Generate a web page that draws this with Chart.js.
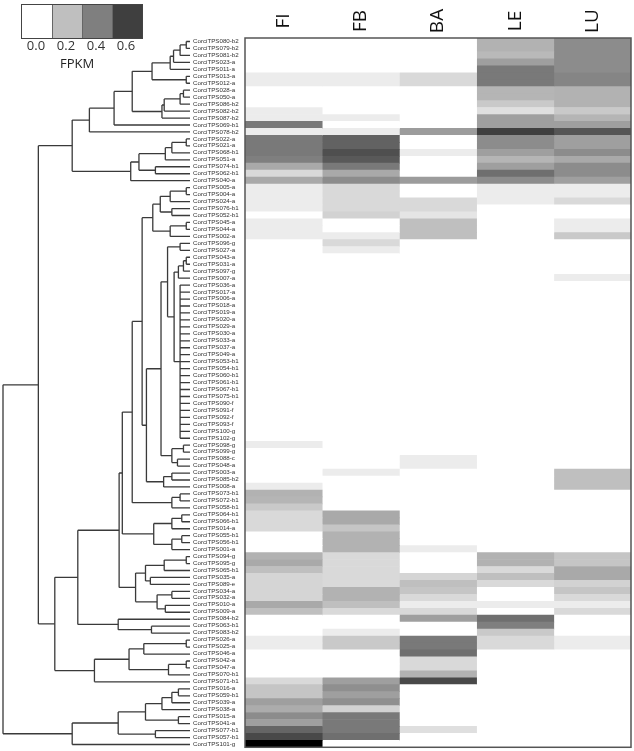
<!DOCTYPE html>
<html>
<head>
<meta charset="utf-8">
<script src="https://cdn.jsdelivr.net/npm/chart.js@4"></script>
<style>
  body { margin: 0; background: #fff; font-family: "Open Sans", sans-serif; }
  #page { position: relative; width: 634px; height: 751px; overflow: hidden; }
  #heatBox { position: absolute; left: 0; top: 0; width: 634px; height: 751px; }
  #treeBox { position: absolute; left: 0; top: 0; width: 195px; height: 751px; }
  #key { position: absolute; left: 21px; top: 4px; display: flex; border: 1px solid #444; }
  #key div { width: 30px; height: 33px; box-sizing: border-box; border-left: 1px solid #666; }
  #key div:first-child { border-left: none; }
  #keyTicks { position: absolute; left: 21px; top: 36px; display: flex; font-size: 13px; color: #333; }
  #keyTicks span { width: 30px; text-align: center; }
  #keyTitle { position: absolute; left: 60px; top: 54px; font-size: 13px; color: #222; }
</style>
</head>
<body>
<div id="page">
  <div id="heatBox"><canvas id="heat"></canvas></div>
  <div id="treeBox"><canvas id="tree"></canvas></div>
  <div id="key"></div>
  <div id="keyTicks"></div>
  <div id="keyTitle">FPKM</div>
</div>
<script>
const genes = [
  'CorciTPS080-b2','CorciTPS079-b2','CorciTPS081-b2','CorciTPS023-a','CorciTPS011-a',
  'CorciTPS013-a','CorciTPS012-a','CorciTPS028-a','CorciTPS050-a','CorciTPS086-b2',
  'CorciTPS082-b2','CorciTPS087-b2','CorciTPS069-b1','CorciTPS078-b2','CorciTPS022-a',
  'CorciTPS021-a','CorciTPS068-b1','CorciTPS051-a','CorciTPS074-b1','CorciTPS062-b1',
  'CorciTPS040-a','CorciTPS005-a','CorciTPS004-a','CorciTPS024-a','CorciTPS076-b1',
  'CorciTPS052-b1','CorciTPS045-a','CorciTPS044-a','CorciTPS002-a','CorciTPS096-g',
  'CorciTPS027-a','CorciTPS043-a','CorciTPS031-a','CorciTPS097-g','CorciTPS007-a',
  'CorciTPS036-a','CorciTPS017-a','CorciTPS006-a','CorciTPS018-a','CorciTPS019-a',
  'CorciTPS020-a','CorciTPS029-a','CorciTPS030-a','CorciTPS033-a','CorciTPS037-a',
  'CorciTPS049-a','CorciTPS053-b1','CorciTPS054-b1','CorciTPS060-b1','CorciTPS061-b1',
  'CorciTPS067-b1','CorciTPS075-b1','CorciTPS090-f','CorciTPS091-f','CorciTPS092-f',
  'CorciTPS093-f','CorciTPS100-g','CorciTPS102-g','CorciTPS098-g','CorciTPS099-g',
  'CorciTPS088-c','CorciTPS048-a','CorciTPS003-a','CorciTPS085-b2','CorciTPS008-a',
  'CorciTPS073-b1','CorciTPS072-b1','CorciTPS058-b1','CorciTPS064-b1','CorciTPS066-b1',
  'CorciTPS014-a','CorciTPS055-b1','CorciTPS056-b1','CorciTPS001-a','CorciTPS094-g',
  'CorciTPS095-g','CorciTPS065-b1','CorciTPS035-a','CorciTPS089-e','CorciTPS034-a',
  'CorciTPS032-a','CorciTPS010-a','CorciTPS009-a','CorciTPS084-b2','CorciTPS063-b1',
  'CorciTPS083-b2','CorciTPS026-a','CorciTPS025-a','CorciTPS046-a','CorciTPS042-a',
  'CorciTPS047-a','CorciTPS070-b1','CorciTPS071-b1','CorciTPS016-a','CorciTPS059-b1',
  'CorciTPS039-a','CorciTPS038-a','CorciTPS015-a','CorciTPS041-a','CorciTPS077-b1',
  'CorciTPS057-b1','CorciTPS101-g'
];

const tissues = ['FI', 'FB', 'BA', 'LE', 'LU'];

// FPKM, one value per gene (same order as genes)
const FI = [
  0,0,0,0,0,0.06,0.06,0,0,0,
  0.06,0.06,0.42,0.06,0.42,0.42,0.42,0.40,0.27,0.12,
  0.27,0.06,0.06,0.06,0.06,0,0.06,0.06,0.06,0,
  0,0,0,0,0,0,0,0,0,0,
  0,0,0,0,0,0,0,0,0,0,
  0,0,0,0,0,0,0,0,0.06,0,
  0,0,0,0,0.06,0.24,0.23,0.17,0.12,0.12,
  0.12,0,0,0,0.24,0.27,0.20,0.13,0.13,0.13,
  0.13,0.27,0.20,0,0,0,0.06,0.06,0,0,
  0,0,0.12,0.18,0.18,0.30,0.26,0.36,0.30,0.48,
  0.57,0.80
];
const FB = [
  0,0,0,0,0,0.06,0.06,0,0,0,
  0,0.06,0,0.06,0.49,0.49,0.55,0.52,0.42,0.27,
  0.36,0.12,0.12,0.12,0.12,0.14,0,0,0.06,0.12,
  0.06,0,0,0,0,0,0,0,0,0,
  0,0,0,0,0,0,0,0,0,0,
  0,0,0,0,0,0,0,0,0,0,
  0,0,0.06,0,0,0,0,0,0.27,0.27,
  0.18,0.24,0.24,0.24,0.12,0.12,0.12,0.12,0.12,0.24,
  0.24,0.20,0.12,0,0,0.06,0.17,0.17,0,0,
  0,0,0.30,0.35,0.30,0.35,0.14,0.42,0.42,0.42,
  0.45,0
];
const BA = [
  0,0,0,0,0,0.12,0.12,0,0,0,
  0,0,0,0.31,0,0,0.06,0,0,0,
  0.31,0,0,0.12,0.12,0.08,0.20,0.20,0.20,0,
  0,0,0,0,0,0,0,0,0,0,
  0,0,0,0,0,0,0,0,0,0,
  0,0,0,0,0,0,0,0,0,0,
  0.06,0.06,0,0,0,0,0,0,0,0,
  0,0,0,0.06,0,0,0,0.13,0.20,0.18,
  0.12,0.06,0.12,0.30,0,0,0.42,0.42,0.45,0.12,
  0.12,0.24,0.57,0,0,0,0,0,0,0.10,
  0,0
];
const LE = [
  0.24,0.24,0.22,0.30,0.42,0.42,0.42,0.23,0.23,0.17,
  0.10,0.30,0.30,0.60,0.36,0.36,0.30,0.23,0.30,0.45,
  0.36,0.06,0.06,0.06,0,0,0,0,0,0,
  0,0,0,0,0,0,0,0,0,0,
  0,0,0,0,0,0,0,0,0,0,
  0,0,0,0,0,0,0,0,0,0,
  0,0,0,0,0,0,0,0,0,0,
  0,0,0,0,0.24,0.24,0.12,0.20,0.12,0,
  0,0.06,0,0.45,0.40,0.17,0.12,0.12,0,0,
  0,0,0,0,0,0,0,0,0,0,
  0,0
];
const LU = [
  0.36,0.36,0.36,0.36,0.36,0.38,0.38,0.24,0.24,0.24,
  0.17,0.23,0.30,0.53,0.30,0.30,0.36,0.27,0.36,0.36,
  0.30,0.06,0.06,0.12,0,0,0.06,0.06,0.17,0,
  0,0,0,0,0.06,0,0,0,0,0,
  0,0,0,0,0,0,0,0,0,0,
  0,0,0,0,0,0,0,0,0,0,
  0,0,0.20,0.20,0.20,0,0,0,0,0,
  0,0,0,0,0.18,0.18,0.27,0.27,0.14,0.18,
  0.12,0.06,0.12,0,0,0,0.06,0.06,0,0,
  0,0,0,0,0,0,0,0,0,0,
  0,0
];
const fpkm = [FI, FB, BA, LE, LU];

const keyValues = [0.0, 0.2, 0.4, 0.6];

// hierarchical clustering: [height, child, child, ...]; numbers are gene indices
const topCluster = [63,
  [53.8, [40.6, [30.9,
      [20.3, [10.6, [8.8, [5.3, [2, 0, 1], 2], 3], 4], [2, 5, 6]],
      [15, [13.8, [5.3, [3.5, 7, 8], 9], 10], 11]], 12], 13],
  [31.7, [27.3, [13.2, [9.7, [2, 14, 15], 16], 17], [18.5, 18, 19]], 20]];
const zeroCluster = [5.3, 35,36,37,38,39,40,41,42,43,44,45,46,47,48,49,50,51,52,53,54,55,56,57];
const midCluster = [72.3,
  [60,
    [37.9,
      [36.2,
        [30.9,
          [25.6,
            [19.9, [15.9, [10.6, [2, 21, 22], 23], [9.7, 24, 25]], [10.6, [2, 26, 27], 28]],
            [23.3,
              [15.5, [12, [5.3, 29, 30], [8.5, [6.2, [3.5, [2, 31, 32], 33], 34], zeroCluster]],
                     [9.7, [3.5, 58, 59], [6.7, 60, 61]]],
              [14.1, [9.7, 62, 63], 64]]],
          [9.7, [5.3, 65, 66], 67]],
        [19.4, [9.7, [4.4, 68, 69], 70], [9.7, [4.4, 71, 72], 73]]],
      [29.1, [23.8, [13.8, [2, 74, 75], 76], [21.2, 77, 78]],
             [17.6, [9.7, 79, 80], [13.2, 81, 82]]]],
    [38.4, 83, [20.6, 84, 85]]],
  [51.1, [32.6, [24.7, [2, 86, 87], 88], [11.5, [2, 89, 90], 91]], 92]];
const lowCluster = [63,
  [38.4, [23.8, [15, [9.7, [6.2, 93, 94], 95], 96], [6.2, 97, 98]], [18.5, 99, 100]], 101];
const tree = [100, [81.1, topCluster, midCluster], lowCluster];

// ---- colour key
function shade(v) {
  const g = Math.max(0, Math.round(255 - v * 320));
  return `rgb(${g},${g},${g})`;
}
const key = document.getElementById('key');
const keyTicks = document.getElementById('keyTicks');
keyValues.forEach(v => {
  const box = document.createElement('div');
  box.style.background = shade(v);
  key.appendChild(box);
  const s = document.createElement('span');
  s.textContent = v.toFixed(1);
  keyTicks.appendChild(s);
});

// ---- heatmap
const frame = {
  id: 'frame',
  afterDraw(chart) {
    const a = chart.chartArea;
    const ctx = chart.ctx;
    ctx.save();
    ctx.strokeStyle = '#555';
    ctx.lineWidth = 1.5;
    ctx.strokeRect(a.left, a.top, a.right - a.left, a.bottom - a.top);
    // column names, rotated, centred over each column
    const xs = chart.scales.x;
    ctx.fillStyle = '#111';
    ctx.font = '19px "Open Sans"';
    ctx.textAlign = 'center';
    ctx.textBaseline = 'middle';
    tissues.forEach((t, j) => {
      ctx.save();
      ctx.translate(xs.getPixelForValue(j + 0.5), 21);
      ctx.rotate(-Math.PI / 2);
      ctx.fillText(t, 0, 0);
      ctx.restore();
    });
    ctx.restore();
  }
};

new Chart(document.getElementById('heat'), {
  type: 'bar',
  data: {
    labels: genes,
    datasets: tissues.map((t, j) => ({
      label: t,
      data: genes.map(() => [j, j + 1]),
      backgroundColor: fpkm[j].map(shade),
      borderWidth: 0,
      barPercentage: 1,
      categoryPercentage: 1,
      grouped: false,
    })),
  },
  options: {
    indexAxis: 'y',
    animation: false,
    responsive: true,
    maintainAspectRatio: false,
    layout: { padding: { left: 193, right: 3, top: 0, bottom: 3 } },
    plugins: { legend: { display: false }, tooltip: { enabled: false } },
    scales: {
      x: {
        type: 'linear',
        position: 'top',
        min: 0,
        max: 5,
        grid: { display: false, drawTicks: false },
        border: { display: false },
        ticks: { display: false },
        afterFit: s => { s.height = 38; },
      },
      y: {
        grid: { display: false, drawTicks: false },
        border: { display: false },
        afterFit: s => { s.width = 52; },
        ticks: {
          autoSkip: false,
          crossAlign: 'far',
          padding: 0,
          color: '#333',
          font: { size: 6.2, family: 'Liberation Sans' },
        },
      },
    },
  },
  plugins: [frame],
});

// ---- dendrogram
const branches = [];
function walk(node) {
  if (typeof node === 'number') return { h: 0, y: node };
  const [h, ...kids] = node;
  const pts = kids.map(walk);
  const data = [];
  pts.forEach(p => {
    data.push({ x: p.h, y: p.y }, { x: h, y: p.y }, { x: null, y: null });
  });
  data.push({ x: h, y: pts[0].y }, { x: h, y: pts[pts.length - 1].y });
  branches.push(data);
  return { h, y: (pts[0].y + pts[pts.length - 1].y) / 2 };
}
walk(tree);

new Chart(document.getElementById('tree'), {
  type: 'scatter',
  data: {
    datasets: branches.map(b => ({
      data: b,
      showLine: true,
      spanGaps: false,
      pointRadius: 0,
      borderColor: '#3a3a3a',
      borderWidth: 1.3,
      clip: false,
    })),
  },
  options: {
    animation: false,
    responsive: true,
    maintainAspectRatio: false,
    layout: { padding: { left: 3, right: 5, top: 38, bottom: 3 } },
    plugins: { legend: { display: false }, tooltip: { enabled: false } },
    scales: {
      x: { type: 'linear', min: 0, max: 100, reverse: true, display: false },
      y: { type: 'linear', min: -0.5, max: genes.length - 0.5, reverse: true, display: false },
    },
  },
});
</script>
</body>
</html>
